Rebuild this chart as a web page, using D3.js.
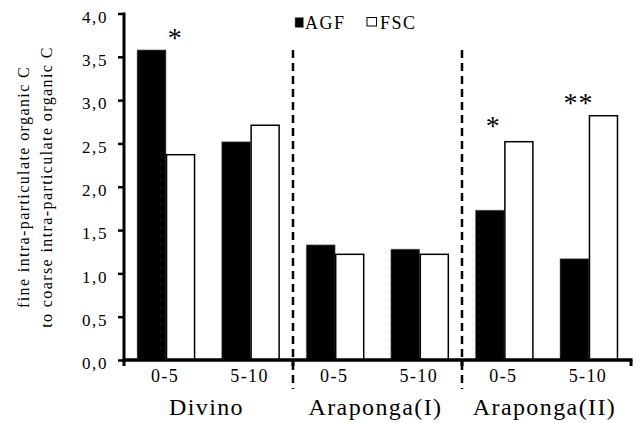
<!DOCTYPE html>
<html>
<head>
<meta charset="utf-8">
<script src="https://cdn.jsdelivr.net/npm/d3@7"></script>
<style>
  html, body { margin: 0; padding: 0; background: #fff; }
  svg { display: block; }
  svg text { font-family: "Liberation Serif", "Times New Roman", serif; fill: #000; }
</style>
</head>
<body>
<svg id="chart" width="639" height="423"></svg>
<script>
// Sites and sampling depths (cm)
const sites = ["Divino", "Araponga(I)", "Araponga(II)"];
const depths = ["0-5", "5-10"];
const series = ["AGF", "FSC"];

// Ratio of fine to coarse intra-particulate organic C
const agfValues = [3.58, 2.52, 1.33, 1.28, 1.73, 1.17];
const fscValues = [2.37, 2.71, 1.22, 1.22, 2.52, 2.82];

const yTicks = [0, 0.5, 1, 1.5, 2, 2.5, 3, 3.5, 4];

// Significance marks: site, depth, symbol, height on the value axis
const marks = [
  { site: "Divino", depth: "0-5", text: "*", level: 3.76 },
  { site: "Araponga(II)", depth: "0-5", text: "*", level: 2.75 },
  { site: "Araponga(II)", depth: "5-10", text: "**", level: 3.01 }
];

const rows = [];
sites.forEach((s, i) => depths.forEach((d, j) => {
  const k = i * depths.length + j;
  rows.push({ key: s + "|" + d, site: s, depth: d, AGF: agfValues[k], FSC: fscValues[k] });
}));

const serif = "Liberation Serif";
const svg = d3.select("#chart");
const plotLeft = 124, plotRight = 631, plotTop = 13.5, plotBottom = 360;

const x0 = d3.scaleBand()
  .domain(rows.map(r => r.key))
  .range([plotLeft, plotRight])
  .paddingInner(0.314)
  .paddingOuter(0.154);

const x1 = d3.scaleBand()
  .domain(series)
  .range([0, x0.bandwidth()]);

const y = d3.scaleLinear().domain([0, 4]).range([plotBottom, plotTop]);

// Bars
const g = svg.append("g");
const cat = g.selectAll("g.cat").data(rows).join("g")
  .attr("transform", d => `translate(${x0(d.key)},0)`);

cat.append("rect")
  .attr("x", x1("AGF"))
  .attr("y", d => y(d.AGF))
  .attr("width", x1.bandwidth())
  .attr("height", d => y(0) - y(d.AGF))
  .attr("fill", "#000")
  .attr("stroke", "#9a9a9a")
  .attr("stroke-width", 1)
  .attr("stroke-dasharray", "1,1");

cat.append("rect")
  .attr("x", x1("FSC") + 0.5)
  .attr("y", d => y(d.FSC))
  .attr("width", x1.bandwidth() - 1)
  .attr("height", d => y(0) - y(d.FSC))
  .attr("fill", "#fff")
  .attr("stroke", "#000")
  .attr("stroke-width", 1.5);

// Site boundaries along the category axis
const perSite = (plotRight - plotLeft) / sites.length;
const boundaries = d3.range(sites.length + 1).map(i => plotLeft + i * perSite);

// Dashed separators between sites
svg.selectAll("line.sep").data(boundaries.slice(1, -1)).join("line")
  .attr("x1", d => d).attr("x2", d => d)
  .attr("y1", y(3.58)).attr("y2", 389)
  .attr("stroke", "#000")
  .attr("stroke-width", 2.5)
  .attr("stroke-dasharray", "8,5");

// Y axis
const yAxis = d3.axisLeft(y)
  .tickValues(yTicks)
  .tickSize(6)
  .tickPadding(10)
  .tickFormat(d => d3.format(".1f")(d).replace(".", ","));

const ya = svg.append("g").attr("transform", `translate(${plotLeft},0)`).call(yAxis);
ya.attr("font-family", null);
ya.select(".domain").attr("stroke-width", 3).attr("d", `M0,${plotBottom + 1.5}V${plotTop - 1}`);
ya.selectAll(".tick line").attr("stroke-width", 2.5);
ya.selectAll(".tick text")
  .style("font-family", serif)
  .attr("font-size", 17)
  .attr("letter-spacing", "1.6px")
  .attr("dy", "0.52em")
  .attr("fill", "#000");

// X axis line with boundary ticks
svg.append("line")
  .attr("x1", plotLeft - 1.5).attr("x2", plotRight + 1.5)
  .attr("y1", plotBottom).attr("y2", plotBottom)
  .attr("stroke", "#000").attr("stroke-width", 3.5);
svg.selectAll("line.bt").data(boundaries).join("line")
  .attr("x1", d => d).attr("x2", d => d)
  .attr("y1", plotBottom).attr("y2", plotBottom + 6)
  .attr("stroke", "#000").attr("stroke-width", 3);

// Depth labels
svg.selectAll("text.depth").data(rows).join("text")
  .attr("x", d => x0(d.key) + x0.bandwidth() / 2 - 1)
  .attr("y", 382)
  .attr("text-anchor", "middle")
  .style("font-family", serif)
  .attr("font-size", 18)
  .attr("letter-spacing", "1.4px")
  .text(d => d.depth);

// Site labels
svg.selectAll("text.site").data(sites).join("text")
  .attr("x", (d, i) => (boundaries[i] + boundaries[i + 1]) / 2 - 2)
  .attr("y", 415)
  .attr("text-anchor", "middle")
  .style("font-family", serif)
  .attr("font-size", 24)
  .attr("letter-spacing", "1.4px")
  .text(d => d);

// Y axis title
const yt = svg.append("text")
  .attr("transform", "translate(0,187) rotate(-90)")
  .attr("text-anchor", "middle")
  .style("font-family", serif)
  .attr("font-size", 16)
  .attr("letter-spacing", "1.4px");
yt.append("tspan").attr("x", 0).attr("y", 29).text("fine intra-particulate organic C");
yt.append("tspan").attr("x", 0).attr("y", 52).text("to coarse intra-particulate organic C");

// Significance marks
const shift = [0.66, 0.31, 0.32];
svg.selectAll("text.sig").data(marks).join("text")
  .attr("x", (d, i) => x0(d.site + "|" + d.depth) + shift[i] * x0.bandwidth())
  .attr("y", d => y(d.level) + 13)
  .attr("text-anchor", "middle")
  .style("font-family", serif)
  .attr("font-size", 28)
  .attr("letter-spacing", "1px")
  .text(d => d.text);

// Legend
const legend = svg.append("g");
const legendItems = [
  { name: "AGF", x: 295 },
  { name: "FSC", x: 367 }
];
legend.selectAll("rect").data(legendItems).join("rect")
  .attr("x", d => d.x)
  .attr("y", 17.5)
  .attr("width", d => d.name === "AGF" ? 8.5 : 9.5)
  .attr("height", d => d.name === "AGF" ? 10 : 8.5)
  .attr("fill", d => d.name === "AGF" ? "#000" : "#fff")
  .attr("stroke", d => d.name === "AGF" ? "#8a8a8a" : "#000")
  .attr("stroke-width", 1)
  .attr("stroke-dasharray", d => d.name === "AGF" ? "1,1" : null);
legend.selectAll("text").data(legendItems).join("text")
  .attr("x", d => d.x + (d.name === "AGF" ? 10 : 13))
  .attr("y", 28.5)
  .style("font-family", serif)
  .attr("font-size", 18)
  .attr("letter-spacing", "1.5px")
  .text(d => d.name);
</script>
</body>
</html>
